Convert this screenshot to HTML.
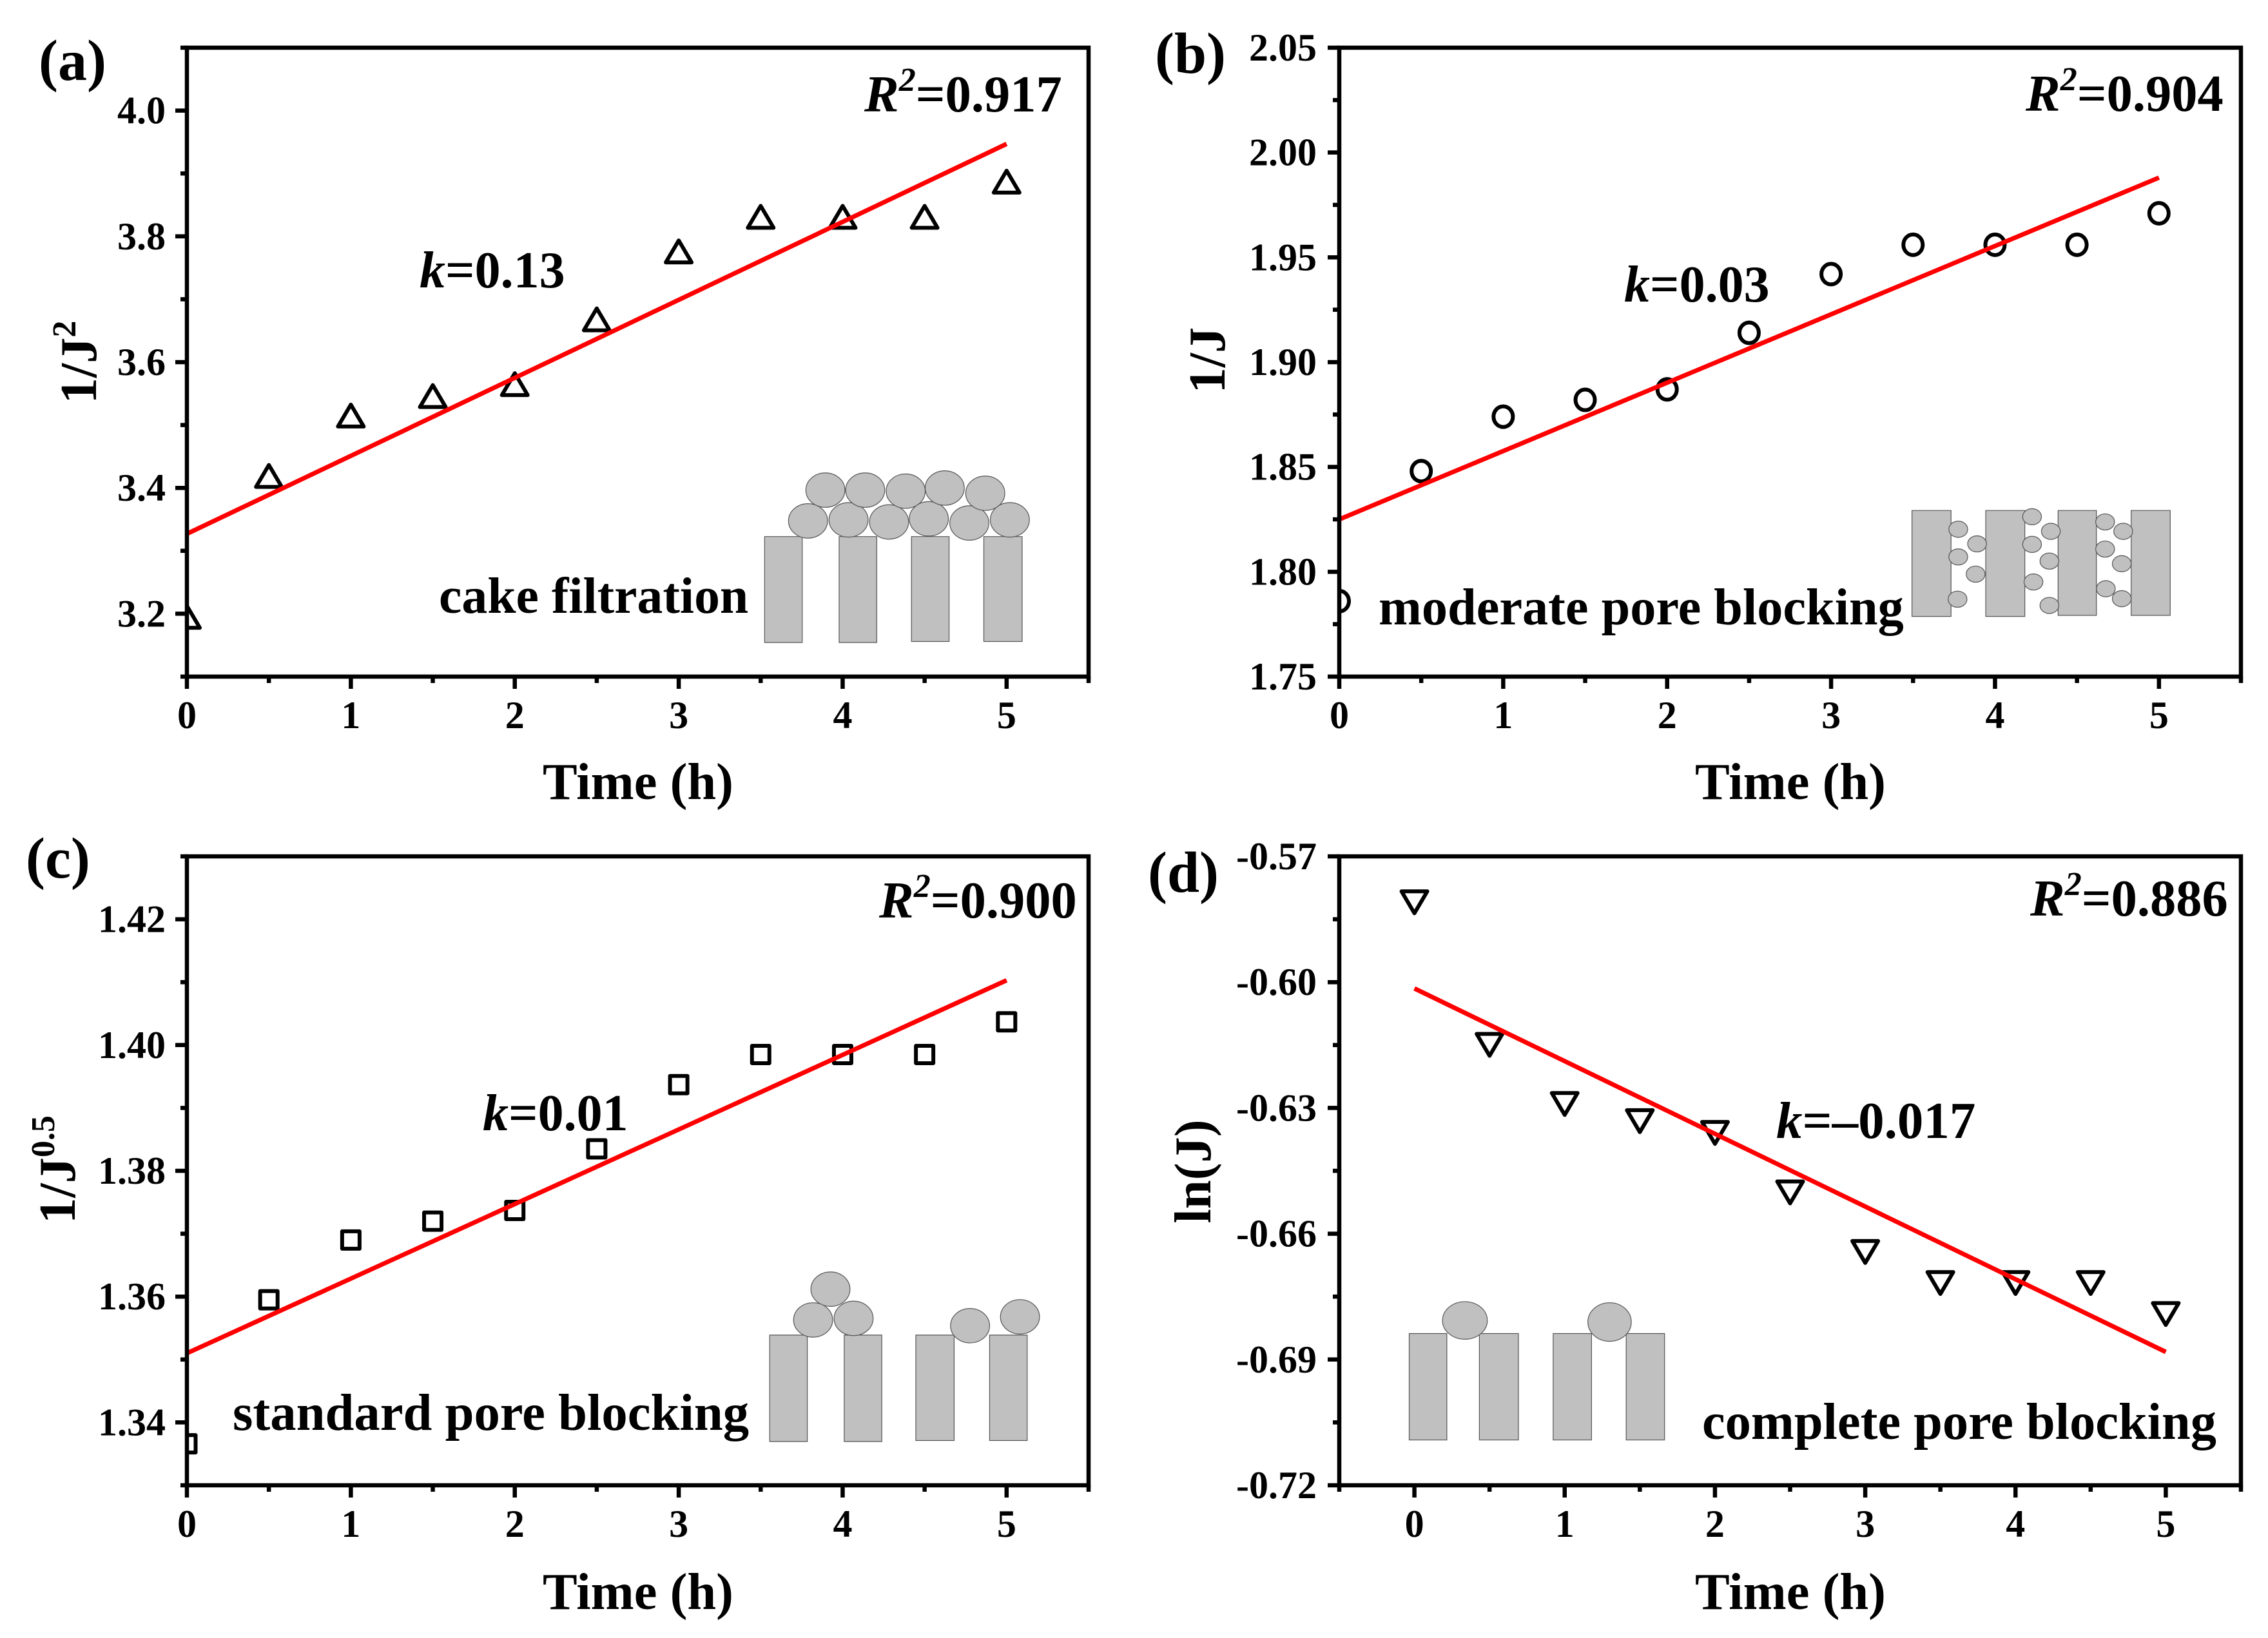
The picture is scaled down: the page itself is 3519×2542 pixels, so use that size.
<!DOCTYPE html>
<html lang="en">
<head>
<meta charset="utf-8">
<title>Membrane fouling model fits</title>
<style>
html,body{margin:0;padding:0;background:#fff;}
svg{display:block;}
text{font-family:"Liberation Serif",serif;font-weight:bold;fill:#000;}
.ann{font-size:80.5px;}
.tag{font-size:90px;}
.tick{font-size:60px;}
.sh{fill:#c0c0c0;stroke:#555;stroke-width:1.2px;vector-effect:non-scaling-stroke;}
</style>
</head>
<body>
<svg id="figure" xmlns="http://www.w3.org/2000/svg" width="3519" height="2542" viewBox="0 0 3519 2542">
<rect x="0" y="0" width="3519" height="2542" fill="#fff"/>

<g transform="scale(1.1224,0.81)">
<rect class="sh" x="1057" y="1028" width="52" height="203"/><rect class="sh" x="1160" y="1028" width="52" height="203"/><rect class="sh" x="1260" y="1028" width="52" height="201"/><rect class="sh" x="1360" y="1028" width="53" height="201"/>
<ellipse class="sh" cx="1117" cy="998" rx="27" ry="33"/><ellipse class="sh" cx="1173" cy="996" rx="27" ry="33"/><ellipse class="sh" cx="1229" cy="1000" rx="27" ry="33"/><ellipse class="sh" cx="1284" cy="994" rx="27" ry="33"/><ellipse class="sh" cx="1340" cy="1002" rx="27" ry="33"/><ellipse class="sh" cx="1396" cy="996" rx="27" ry="33"/>
<ellipse class="sh" cx="1141" cy="939" rx="27" ry="33"/><ellipse class="sh" cx="1196" cy="939" rx="27" ry="33"/><ellipse class="sh" cx="1252" cy="941" rx="27" ry="33"/><ellipse class="sh" cx="1306" cy="935" rx="27" ry="33"/><ellipse class="sh" cx="1362" cy="945" rx="27" ry="33"/>
</g>

<g transform="translate(1760,0) scale(1.1224,0.81)">
<rect class="sh" x="1075" y="978" width="54" height="203"/><rect class="sh" x="1177" y="978" width="54" height="203"/><rect class="sh" x="1277" y="978" width="53" height="201"/><rect class="sh" x="1378" y="978" width="54" height="201"/>
<ellipse class="sh" cx="1139" cy="1014" rx="13" ry="15.5"/><ellipse class="sh" cx="1165" cy="1042" rx="13" ry="15.5"/><ellipse class="sh" cx="1139" cy="1067" rx="13" ry="15.5"/><ellipse class="sh" cx="1163" cy="1100" rx="13" ry="15.5"/><ellipse class="sh" cx="1138" cy="1148" rx="13" ry="15.5"/>
<ellipse class="sh" cx="1241" cy="990" rx="13" ry="15.5"/><ellipse class="sh" cx="1267" cy="1018" rx="13" ry="15.5"/><ellipse class="sh" cx="1241" cy="1043" rx="13" ry="15.5"/><ellipse class="sh" cx="1265" cy="1075" rx="13" ry="15.5"/><ellipse class="sh" cx="1243" cy="1115" rx="13" ry="15.5"/><ellipse class="sh" cx="1265" cy="1160" rx="13" ry="15.5"/>
<ellipse class="sh" cx="1342" cy="1000" rx="13" ry="15.5"/><ellipse class="sh" cx="1367" cy="1018" rx="13" ry="15.5"/><ellipse class="sh" cx="1342" cy="1052" rx="13" ry="15.5"/><ellipse class="sh" cx="1365" cy="1080" rx="13" ry="15.5"/><ellipse class="sh" cx="1343" cy="1128" rx="13" ry="15.5"/><ellipse class="sh" cx="1365" cy="1147" rx="13" ry="15.5"/>
</g>

<g transform="translate(0,1270) scale(1.1224,0.81)">
<rect class="sh" x="1064" y="990" width="52" height="204"/><rect class="sh" x="1167" y="990" width="52" height="204"/><rect class="sh" x="1266" y="990" width="53" height="202"/><rect class="sh" x="1368" y="990" width="52" height="202"/>
<ellipse class="sh" cx="1148" cy="902" rx="27" ry="33"/><ellipse class="sh" cx="1124" cy="961" rx="27" ry="33"/><ellipse class="sh" cx="1180" cy="958" rx="27" ry="33"/><ellipse class="sh" cx="1341" cy="972" rx="27" ry="33"/><ellipse class="sh" cx="1410" cy="955" rx="27" ry="33"/>
</g>

<g transform="translate(1760,1270) scale(1.1224,0.81)">
<rect class="sh" x="380" y="987" width="52" height="204"/><rect class="sh" x="477" y="987" width="54" height="204"/><rect class="sh" x="579" y="987" width="53" height="204"/><rect class="sh" x="680" y="987" width="53" height="204"/>
<ellipse class="sh" cx="457" cy="962" rx="31" ry="36"/><ellipse class="sh" cx="657" cy="965" rx="30" ry="37"/>
</g>

<g id="plots"></g>

<text class="tag" x="60" y="124">(a)</text>
<text class="tag" x="1792" y="113">(b)</text>
<text class="tag" x="40" y="1362">(c)</text>
<text class="tag" x="1781" y="1384">(d)</text>

<text class="ann" x="1341" y="173"><tspan font-style="italic">R</tspan><tspan font-style="italic" font-size="52" dy="-32">2</tspan><tspan dy="32">=0.917</tspan></text>
<text class="ann" x="3143" y="172"><tspan font-style="italic">R</tspan><tspan font-style="italic" font-size="52" dy="-32">2</tspan><tspan dy="32">=0.904</tspan></text>
<text class="ann" x="1364" y="1424"><tspan font-style="italic">R</tspan><tspan font-style="italic" font-size="52" dy="-32">2</tspan><tspan dy="32">=0.900</tspan></text>
<text class="ann" x="3150" y="1421"><tspan font-style="italic">R</tspan><tspan font-style="italic" font-size="52" dy="-32">2</tspan><tspan dy="32">=0.886</tspan></text>

<text class="ann" style="font-size:80px" x="651" y="446"><tspan font-style="italic">k</tspan>=0.13</text>
<text class="ann" style="font-size:80px" x="2520" y="468"><tspan font-style="italic">k</tspan>=0.03</text>
<text class="ann" style="font-size:80px" x="749" y="1754"><tspan font-style="italic">k</tspan>=0.01</text>
<text class="ann" style="font-size:81px" x="2756" y="1766"><tspan font-style="italic">k</tspan>=–0.017</text>

<text class="ann" style="font-size:79.7px" x="681" y="951">cake filtration</text>
<text class="ann" style="font-size:80.3px" x="2139" y="969">moderate pore blocking</text>
<text class="ann" style="font-size:80.7px" x="361" y="2219">standard pore blocking</text>
<text class="ann" style="font-size:80.4px" x="2641" y="2233">complete pore blocking</text>

<text class="ann" x="990" y="1240" text-anchor="middle">Time (h)</text>
<text class="ann" x="2778" y="1240" text-anchor="middle">Time (h)</text>
<text class="ann" x="990" y="2497" text-anchor="middle">Time (h)</text>
<text class="ann" x="2778" y="2497" text-anchor="middle">Time (h)</text>

<text class="ann" transform="translate(149,562) rotate(-90)" text-anchor="middle">1/J<tspan font-size="52" dy="-32">2</tspan></text>
<text class="ann" transform="translate(1900,559) rotate(-90)" text-anchor="middle">1/J</text>
<text class="ann" transform="translate(116,1815) rotate(-90)" text-anchor="middle">1/J<tspan font-size="52" dy="-32">0.5</tspan></text>
<text class="ann" transform="translate(1878,1818) rotate(-90)" text-anchor="middle">ln(J)</text>
</svg>

<script>
const timeHours = [0, 0.5, 1, 1.5, 2, 2.5, 3, 3.5, 4, 4.5, 5];
const cakeValues = [3.194, 3.418, 3.514, 3.545, 3.564, 3.667, 3.775, 3.83, 3.83, 3.83, 3.886];
const moderateValues = [1.786, 1.848, 1.874, 1.882, 1.887, 1.914, 1.942, 1.956, 1.956, 1.956, 1.971];
const standardValues = [1.3366, 1.3595, 1.369, 1.372, 1.3737, 1.3835, 1.3937, 1.3985, 1.3985, 1.3985, 1.4037];
const completeValues = [-0.5808, -0.6148, -0.6289, -0.633, -0.6358, -0.65, -0.6642, -0.6716, -0.6716, -0.6716, -0.679];
const fitTimes = [0, 5];
const cakeFit = [3.327, 3.947];
const moderateFit = [1.825, 1.988];
const standardFit = [1.351, 1.4103];
const completeFit = [-0.6015, -0.6882];
const xTickLabels = ['0', '1', '2', '3', '4', '5'];
const xMinorTicks = [0.5, 1.5, 2.5, 3.5, 4.5, 5.5];
const completeXMinorTicks = [-0.5, 0.5, 1.5, 2.5, 3.5, 4.5, 5.5];
const cakeYLabels = ['3.2', '3.4', '3.6', '3.8', '4.0'];
const cakeYMinor = [3.1, 3.3, 3.5, 3.7, 3.9, 4.1];
const moderateYLabels = ['1.75', '1.80', '1.85', '1.90', '1.95', '2.00', '2.05'];
const moderateYMinor = [1.775, 1.825, 1.875, 1.925, 1.975, 2.025];
const standardYLabels = ['1.34', '1.36', '1.38', '1.40', '1.42'];
const standardYMinor = [1.33, 1.35, 1.37, 1.39, 1.41, 1.43];
const completeYLabels = ['-0.57', '-0.60', '-0.63', '-0.66', '-0.69', '-0.72'];
const completeYMinor = [-0.585, -0.615, -0.645, -0.675, -0.705];

const SVG_NS = 'http://www.w3.org/2000/svg';
const plotsRoot = document.getElementById('plots');

const panels = [
  { id: 'a', marker: 'triangle-up', values: cakeValues, fit: cakeFit, yLabels: cakeYLabels, yMinor: cakeYMinor, xMinor: xMinorTicks,
    left: 290, right: 1689, top: 74, bottom: 1050, xMin: 0, xMax: 5.5, yMin: 3.1, yMax: 4.1, tickBase: 1130, yLabelRight: 257 },
  { id: 'b', marker: 'circle', values: moderateValues, fit: moderateFit, yLabels: moderateYLabels, yMinor: moderateYMinor, xMinor: xMinorTicks,
    left: 2078, right: 3477, top: 74, bottom: 1050, xMin: 0, xMax: 5.5, yMin: 1.75, yMax: 2.05, tickBase: 1130, yLabelRight: 2043 },
  { id: 'c', marker: 'square', values: standardValues, fit: standardFit, yLabels: standardYLabels, yMinor: standardYMinor, xMinor: xMinorTicks,
    left: 290, right: 1689, top: 1329, bottom: 2305, xMin: 0, xMax: 5.5, yMin: 1.33, yMax: 1.43, tickBase: 2385, yLabelRight: 257 },
  { id: 'd', marker: 'triangle-down', values: completeValues, fit: completeFit, yLabels: completeYLabels, yMinor: completeYMinor, xMinor: completeXMinorTicks,
    left: 2078, right: 3477, top: 1329, bottom: 2305, xMin: -0.5, xMax: 5.5, yMin: -0.72, yMax: -0.57, tickBase: 2385, yLabelRight: 2043 }
];

function xScale(p, v) {
  return p.left + (v - p.xMin) / (p.xMax - p.xMin) * (p.right - p.left);
}
function yScale(p, v) {
  return p.bottom - (v - p.yMin) / (p.yMax - p.yMin) * (p.bottom - p.top);
}
function make(tag, attrs) {
  const el = document.createElementNS(SVG_NS, tag);
  Object.keys(attrs).forEach(function (k) { el.setAttribute(k, attrs[k]); });
  return el;
}
function markerPath(kind, x, y) {
  if (kind === 'triangle-up') {
    return 'M' + x + ' ' + (y - 18) + 'L' + (x + 20) + ' ' + (y + 16) + 'L' + (x - 20) + ' ' + (y + 16) + 'Z';
  }
  if (kind === 'triangle-down') {
    return 'M' + x + ' ' + (y + 18) + 'L' + (x + 20) + ' ' + (y - 16) + 'L' + (x - 20) + ' ' + (y - 16) + 'Z';
  }
  if (kind === 'square') {
    return 'M' + (x - 13.5) + ' ' + (y - 13.5) + 'h27v27h-27Z';
  }
  return 'M' + (x - 15) + ' ' + y + 'a15 16 0 1 0 30 0a15 16 0 1 0 -30 0Z';
}

panels.forEach(function (p) {
  const group = make('g', {});
  
  
  plotsRoot.appendChild(group);

  const clip = make('clipPath', { id: 'clip-' + p.id });
  clip.appendChild(make('rect', { x: p.left, y: p.top, width: p.right - p.left, height: p.bottom - p.top }));
  group.appendChild(clip);

  const markers = make('g', { 'clip-path': 'url(#clip-' + p.id + ')' });
  
  
  group.appendChild(markers);
  timeHours.forEach(function (t, i) {
    const m = make('path', {
      d: markerPath(p.marker, xScale(p, t), yScale(p, p.values[i])),
      fill: 'none', stroke: '#000', 'stroke-width': 6, 'stroke-linejoin': 'round'
    });
    
    
    markers.appendChild(m);
  });

  const fitLine = make('line', {
    x1: xScale(p, fitTimes[0]), y1: yScale(p, p.fit[0]),
    x2: xScale(p, fitTimes[1]), y2: yScale(p, p.fit[1]),
    stroke: '#f00', 'stroke-width': 7
  });
  
  
  group.appendChild(fitLine);

  const frame = make('rect', {
    x: p.left, y: p.top, width: p.right - p.left, height: p.bottom - p.top,
    fill: 'none', stroke: '#000', 'stroke-width': 6.5
  });
  
  
  group.appendChild(frame);

  xTickLabels.forEach(function (label) {
    const x = xScale(p, parseFloat(label));
    const tick = make('line', { x1: x, x2: x, y1: p.bottom, y2: p.bottom + 19, stroke: '#000', 'stroke-width': 6.5 });
    
    
    group.appendChild(tick);
    const text = make('text', { class: 'tick', x: x, y: p.tickBase, 'text-anchor': 'middle' });
    
    
    text.textContent = label;
    group.appendChild(text);
  });
  p.xMinor.forEach(function (v) {
    const x = xScale(p, v);
    const tick = make('line', { x1: x, x2: x, y1: p.bottom, y2: p.bottom + 10, stroke: '#000', 'stroke-width': 6.5 });
    
    
    group.appendChild(tick);
  });
  p.yLabels.forEach(function (label) {
    const y = yScale(p, parseFloat(label));
    const tick = make('line', { x1: p.left - 18, x2: p.left, y1: y, y2: y, stroke: '#000', 'stroke-width': 6.5 });
    
    
    group.appendChild(tick);
    const text = make('text', { class: 'tick', x: p.yLabelRight, y: y + 20, 'text-anchor': 'end' });
    
    
    text.textContent = label;
    group.appendChild(text);
  });
  p.yMinor.forEach(function (v) {
    const y = yScale(p, v);
    const tick = make('line', { x1: p.left - 10, x2: p.left, y1: y, y2: y, stroke: '#000', 'stroke-width': 6.5 });
    
    
    group.appendChild(tick);
  });
});
</script>
</body>
</html>
